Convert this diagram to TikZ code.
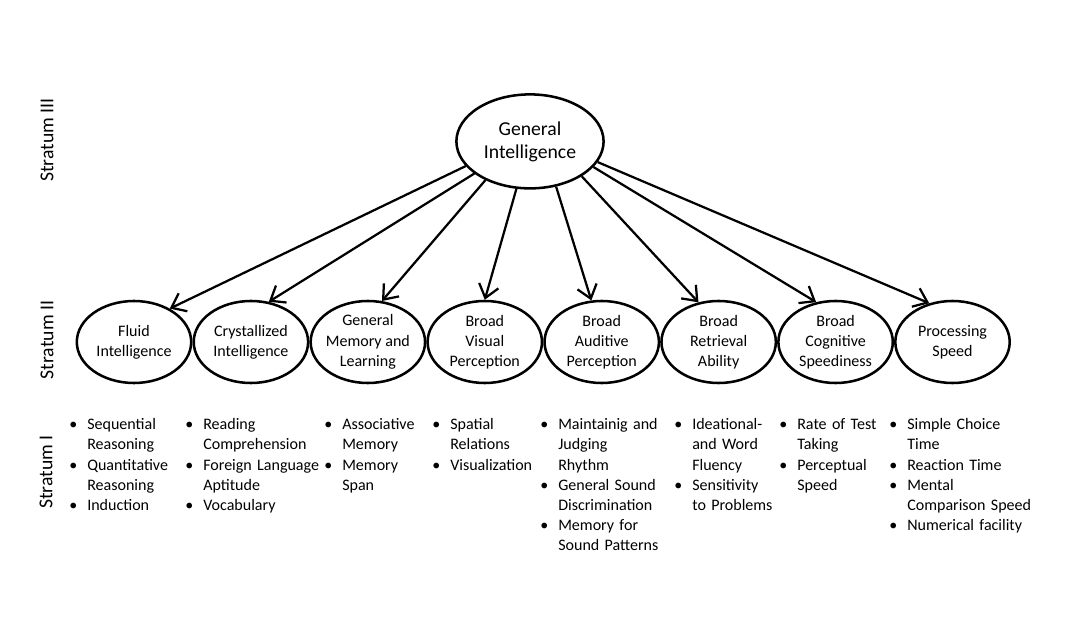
\documentclass[tikz,border=0pt]{standalone}
\usepackage{fontspec}
\setmainfont{Carlito}
\usepackage{enumitem}
\usetikzlibrary{shapes.geometric, arrows.meta, positioning}
\setlist[itemize]{label=\textbullet, leftmargin=0.45cm, labelsep=0.25cm, topsep=0pt, itemsep=0pt, parsep=0pt, partopsep=0pt}

\begin{document}
\begin{tikzpicture}[
    node distance=0cm,
    factor/.style={ellipse, draw=black, line width=1.8pt, minimum width=2.86cm, minimum height=2.05cm, inner sep=-2pt, align=center, font=\fontsize{11.4}{14.4}\selectfont},
    general/.style={ellipse, draw=black, line width=1.8pt, minimum width=3.68cm, minimum height=2.35cm, inner sep=0pt, align=center, font=\fontsize{14}{16.4}\selectfont},
    stratum/.style={rotate=90, font=\fontsize{14}{16}\selectfont},
    abilities/.style={anchor=north west, text width=3.6cm, inner sep=0pt, align=left, font=\fontsize{11.4}{14.4}\selectfont},
    arrow/.style={line width=1.6pt, -{Straight Barb[length=0.32cm, width=0.5cm]}}
]
\useasboundingbox (0,0) rectangle (27.25,15.525);

% Strata
\node[stratum] (s3) at (1.175,12.025) {Stratum III};
\node[stratum] (s2) at (1.175,7.025) {Stratum II};
\node[stratum] (s1) at (1.15,3.725) {Stratum I};

% Stratum III
\node[general] (gi) at (13.25,11.99) {General\\Intelligence};

% Stratum II
\node[factor] (fluid) at (3.35,6.975) {Fluid\\Intelligence};
\node[factor, right=of fluid] (cryst) {Crystallized\\Intelligence};
\node[factor, right=of cryst] (memory) {General\\Memory and\\Learning};
\node[factor, right=of memory] (visual) {Broad\\Visual\\Perception};
\node[factor, right=of visual] (auditive) {Broad\\Auditive\\Perception};
\node[factor, right=of auditive] (retrieval) {Broad\\Retrieval\\Ability};
\node[factor, right=of retrieval] (cognitive) {Broad\\Cognitive\\Speediness};
\node[factor, right=of cognitive] (speed) {Processing\\Speed};

% Arrows
\draw[arrow] (gi.201) -- (fluid.43);
\draw[arrow] (gi.210) -- (cryst.66);
\draw[arrow] (gi.221) -- (memory.71);
\draw[arrow] (gi.254) -- (visual.90);
\draw[arrow] (gi.300) -- (auditive.104);
\draw[arrow] (gi.326) -- (retrieval.117);
\draw[arrow] (gi.338) -- (cognitive.116);
\draw[arrow] (gi.343) -- (speed.121);

% Stratum I
\node[abilities] (fluidlist) at (1.725,5.3) {\begin{itemize}
  \item Sequential\\Reasoning
  \item Quantitative\\Reasoning
  \item Induction
\end{itemize}};
\node[abilities] (crystlist) at (4.625,5.3) {\begin{itemize}
  \item Reading\\Comprehension
  \item Foreign Language\\Aptitude
  \item Vocabulary
\end{itemize}};
\node[abilities] (memorylist) at (8.1,5.3) {\begin{itemize}
  \item Associative\\Memory
  \item Memory\\Span
\end{itemize}};
\node[abilities] (visuallist) at (10.8,5.3) {\begin{itemize}
  \item Spatial\\Relations
  \item Visualization
\end{itemize}};
\node[abilities] (auditivelist) at (13.5,5.3) {\begin{itemize}
  \item Maintainig and\\Judging\\Rhythm
  \item General Sound\\Discrimination
  \item Memory for\\Sound Patterns
\end{itemize}};
\node[abilities] (retrievallist) at (16.85,5.3) {\begin{itemize}
  \item Ideational-\\and Word\\Fluency
  \item Sensitivity\\to Problems
\end{itemize}};
\node[abilities] (cognitivelist) at (19.475,5.3) {\begin{itemize}
  \item Rate of Test\\Taking
  \item Perceptual\\Speed
\end{itemize}};
\node[abilities] (speedlist) at (22.225,5.3) {\begin{itemize}
  \item Simple Choice\\Time
  \item Reaction Time
  \item Mental\\Comparison Speed
  \item Numerical facility
\end{itemize}};

\end{tikzpicture}
\end{document}
